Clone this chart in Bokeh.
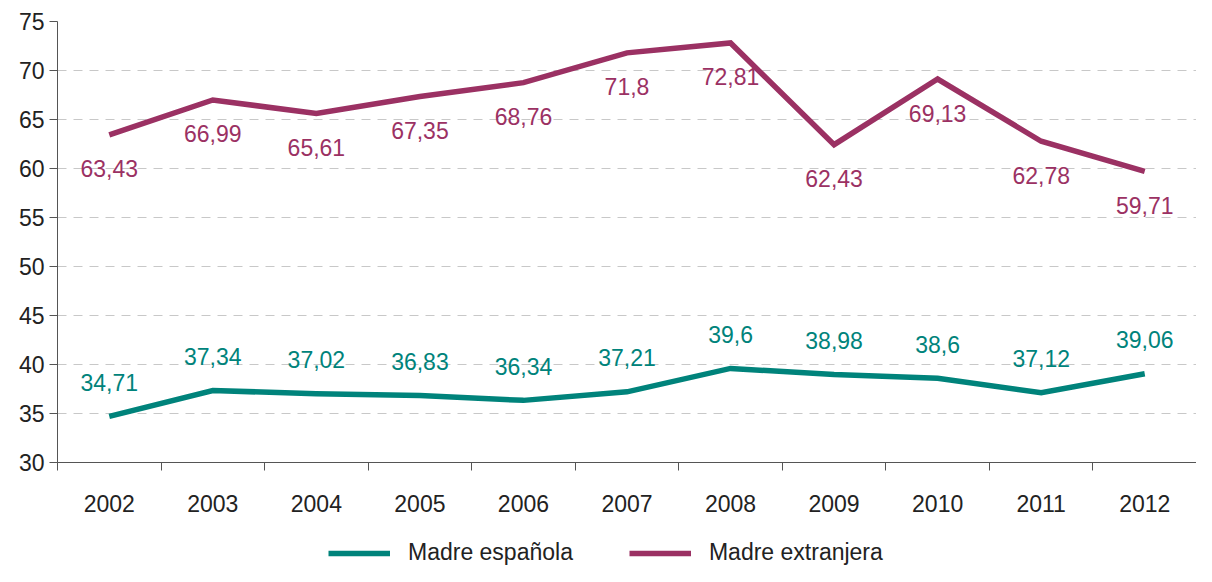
from bokeh.plotting import figure
from bokeh.layouts import column
from bokeh.models import FixedTicker, ColumnDataSource, Legend, LegendItem, Range1d
from bokeh.core.properties import value
from bokeh.embed import file_html
from bokeh.resources import INLINE

years = ["2002", "2003", "2004", "2005", "2006", "2007", "2008", "2009", "2010", "2011", "2012"]
espanola = [34.71, 37.34, 37.02, 36.83, 36.34, 37.21, 39.6, 38.98, 38.6, 37.12, 39.06]
extranjera = [63.43, 66.99, 65.61, 67.35, 68.76, 71.8, 72.81, 62.43, 69.13, 62.78, 59.71]
y_ticks = [30, 35, 40, 45, 50, 55, 60, 65, 70, 75]
series_names = ["Madre española", "Madre extranjera"]

TEAL = "#00837b"
MAROON = "#9b3163"
FONT = "Liberation Sans"
FS = "23px"

def fmt(v):
    s = ("%.2f" % v).rstrip("0").rstrip(".")
    return s.replace(".", ",")

xs = list(range(len(years)))
src = ColumnDataSource(dict(
    x=xs, esp=espanola, ext=extranjera,
    esp_lbl=[fmt(v) for v in espanola],
    ext_lbl=[fmt(v) for v in extranjera],
))

W = 1196
H_MAIN = 518
H_LEG = 48

p = figure(width=W, height=H_MAIN, output_backend="svg", toolbar_location=None,
           x_range=Range1d(-0.5, len(years) - 0.5), y_range=Range1d(30, 75),
           min_border_left=57, min_border_top=21, min_border_right=0, min_border_bottom=56)
p.outline_line_color = None
p.background_fill_color = "white"
p.border_fill_color = "white"

# x axis
p.xaxis.ticker = FixedTicker(ticks=xs, minor_ticks=[i - 0.5 for i in range(len(years) + 1)])
p.xaxis.major_label_overrides = {i: y for i, y in enumerate(years)}
p.xaxis.major_tick_out = 0
p.xaxis.major_tick_in = 0
p.xaxis.minor_tick_out = 8
p.xaxis.minor_tick_in = 0
p.xaxis.minor_tick_line_color = "#555555"
p.xaxis.axis_line_color = "#555555"
p.xaxis.major_label_standoff = 24
p.xaxis.major_label_text_font = FONT
p.xaxis.major_label_text_font_size = FS
p.xaxis.major_label_text_color = "#222222"

# y axis
p.yaxis.ticker = FixedTicker(ticks=y_ticks)
p.yaxis.major_tick_out = 8
p.yaxis.major_tick_in = 0
p.yaxis.minor_tick_line_color = None
p.yaxis.major_tick_line_color = "#555555"
p.yaxis.axis_line_color = "#555555"
p.yaxis.major_label_standoff = 5
p.yaxis.major_label_text_font = FONT
p.yaxis.major_label_text_font_size = FS
p.yaxis.major_label_text_color = "#222222"

p.xgrid.grid_line_color = None
p.ygrid.grid_line_color = "#c8c8c8"
p.ygrid.grid_line_dash = "9 7"
p.ygrid.grid_line_width = 1

p.line("x", "esp", source=src, line_color=TEAL, line_width=5.5, line_join="miter")
p.line("x", "ext", source=src, line_color=MAROON, line_width=5.5, line_join="miter")

p.text("x", "esp", text="esp_lbl", source=src, y_offset=-34, text_align="center",
       text_baseline="middle", text_color=TEAL, text_font=value(FONT), text_font_size=FS)
p.text("x", "ext", text="ext_lbl", source=src, y_offset=34, text_align="center",
       text_baseline="middle", text_color=MAROON, text_font=value(FONT), text_font_size=FS)

# legend strip (same series, ranges chosen so only the legend shows)
lg = figure(width=W, height=H_LEG, output_backend="svg", toolbar_location=None,
            x_range=Range1d(-0.5, len(years) - 0.5), y_range=Range1d(200, 300),
            x_axis_location=None, y_axis_location=None,
            min_border_left=0, min_border_top=0, min_border_right=0, min_border_bottom=0)
lg.outline_line_color = None
lg.xgrid.grid_line_color = None
lg.ygrid.grid_line_color = None
l1 = lg.line("x", "esp", source=src, line_color=TEAL, line_width=5.5)
l2 = lg.line("x", "ext", source=src, line_color=MAROON, line_width=5.5)

legend = Legend(items=[LegendItem(label=series_names[0], renderers=[l1]),
                       LegendItem(label=series_names[1], renderers=[l2])],
                location=(271, 0), orientation="horizontal",
                glyph_width=62, glyph_height=20, label_standoff=18, spacing=56,
                padding=0, margin=0, border_line_color=None, background_fill_alpha=0,
                label_text_font=FONT, label_text_font_size=FS, label_text_color="#222222")
lg.add_layout(legend, "center")

layout = column(p, lg, spacing=0)
open("out.html", "w").write(file_html(layout, INLINE))
